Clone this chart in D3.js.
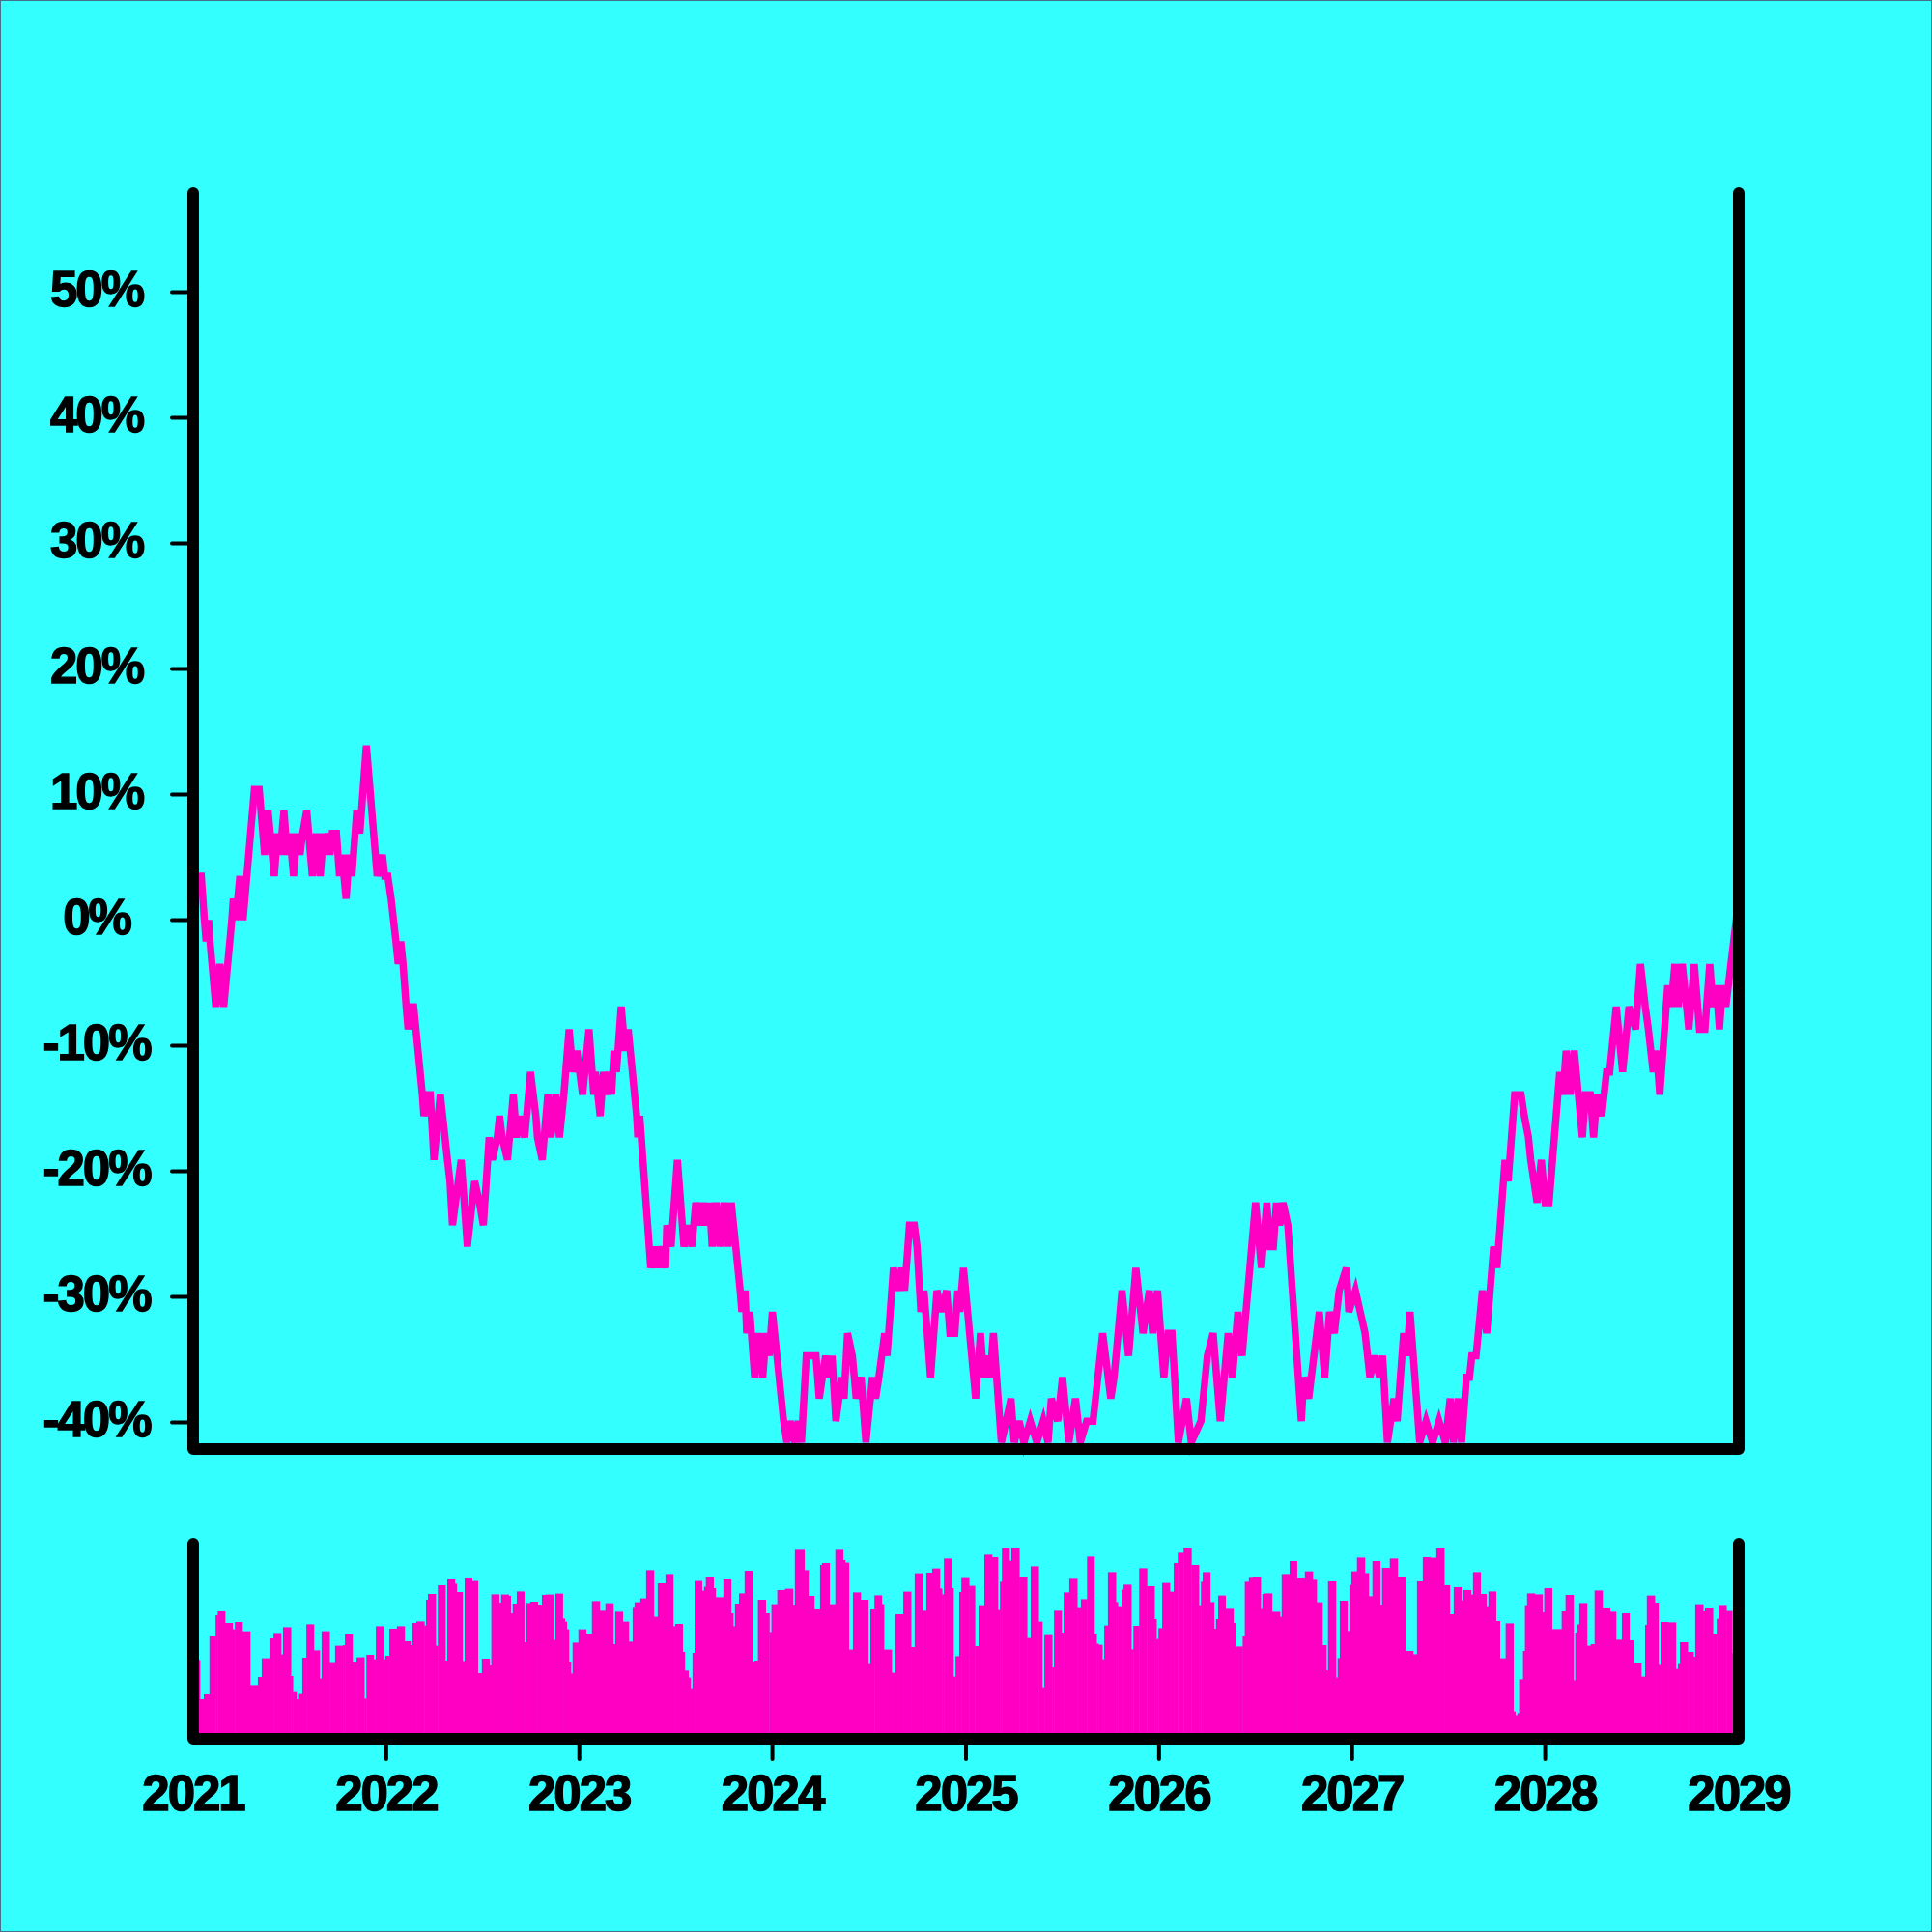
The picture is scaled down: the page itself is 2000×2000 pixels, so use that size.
<!DOCTYPE html>
<html><head><meta charset="utf-8">
<script src="https://cdn.jsdelivr.net/npm/d3@7"></script>
<style>html,body{margin:0;padding:0;background:#33ffff;} svg{display:block}</style>
</head><body>
<svg id="chart" width="2000" height="2000"></svg>
<script>
// ---- price line (percent change), decimal-year positions ----
const lineYears = [
2021.000,2021.042,2021.058,2021.067,2021.080,2021.087,2021.117,2021.138,2021.158,2021.200,2021.208,2021.220,2021.242,2021.258,
2021.317,2021.342,2021.370,2021.388,2021.420,2021.437,2021.450,2021.470,2021.487,2021.500,2021.520,2021.538,2021.553,2021.567,
2021.588,2021.617,2021.637,2021.658,2021.675,2021.683,2021.697,2021.708,2021.720,2021.742,2021.758,2021.770,2021.792,2021.808,
2021.822,2021.847,2021.863,2021.897,2021.953,2021.980,2021.992,2022.008,2022.025,2022.050,2022.062,2022.075,2022.087,2022.103,
2022.113,2022.130,2022.142,2022.187,2022.195,2022.217,2022.228,2022.247,2022.280,2022.317,2022.330,2022.343,2022.388,2022.420,
2022.458,2022.483,2022.503,2022.533,2022.550,2022.575,2022.587,2022.600,2022.628,2022.658,2022.675,2022.692,2022.717,2022.747,
2022.775,2022.783,2022.808,2022.837,2022.853,2022.878,2022.897,2022.920,2022.947,2022.967,2022.987,2023.017,2023.050,2023.075,
2023.083,2023.108,2023.125,2023.142,2023.158,2023.167,2023.180,2023.192,2023.217,2023.237,2023.253,2023.297,2023.303,2023.313,
2023.370,2023.392,2023.408,2023.425,2023.447,2023.453,2023.475,2023.508,2023.542,2023.567,2023.583,2023.603,2023.625,2023.642,
2023.658,2023.675,2023.688,2023.708,2023.728,2023.750,2023.770,2023.787,2023.833,2023.842,2023.858,2023.867,2023.883,2023.908,
2023.928,2023.950,2023.967,2023.983,2024.000,2024.058,2024.075,2024.092,2024.117,2024.133,2024.150,2024.175,2024.200,2024.225,
2024.242,2024.258,2024.275,2024.292,2024.308,2024.328,2024.358,2024.370,2024.388,2024.413,2024.433,2024.458,2024.483,2024.517,
2024.533,2024.550,2024.580,2024.592,2024.625,2024.650,2024.667,2024.683,2024.708,2024.733,2024.747,2024.767,2024.783,2024.817,
2024.850,2024.875,2024.900,2024.917,2024.942,2024.958,2024.967,2024.987,2025.050,2025.075,2025.092,2025.108,2025.125,2025.142,
2025.183,2025.208,2025.233,2025.250,2025.275,2025.300,2025.333,2025.367,2025.400,2025.425,2025.442,2025.475,2025.500,2025.533,
2025.567,2025.592,2025.625,2025.658,2025.708,2025.750,2025.767,2025.808,2025.842,2025.880,2025.917,2025.933,2025.950,2025.967,
2025.992,2026.025,2026.047,2026.067,2026.100,2026.142,2026.167,2026.217,2026.250,2026.280,2026.317,2026.358,2026.380,2026.408,
2026.430,2026.500,2026.530,2026.558,2026.575,2026.592,2026.608,2026.625,2026.642,2026.667,2026.737,2026.750,2026.775,2026.830,
2026.858,2026.883,2026.908,2026.933,2026.970,2026.983,2027.017,2027.042,2027.067,2027.092,2027.117,2027.142,2027.158,2027.183,
2027.217,2027.233,2027.267,2027.283,2027.300,2027.350,2027.383,2027.417,2027.450,2027.483,2027.508,2027.525,2027.550,2027.567,
2027.592,2027.608,2027.620,2027.642,2027.675,2027.697,2027.733,2027.750,2027.792,2027.808,2027.842,2027.875,2027.892,2027.913,
2027.925,2027.958,2027.980,2028.000,2028.020,2028.075,2028.092,2028.108,2028.128,2028.150,2028.192,2028.208,2028.233,2028.250,
2028.267,2028.292,2028.317,2028.333,2028.367,2028.400,2028.433,2028.467,2028.492,2028.517,2028.533,2028.558,2028.575,2028.592,
2028.633,2028.650,2028.670,2028.687,2028.708,2028.742,2028.770,2028.797,2028.825,2028.850,2028.867,2028.883,2028.900,2028.917,
2028.933,2029.000];
const lineValues = [
3.5,3.5,0,-1.7,0,-1.7,-6.9,-3.5,-6.9,0,1.7,0,3.5,0,
10.4,10.4,5.2,8.7,3.5,6.9,5.2,8.7,5.2,6.9,3.5,6.9,5.2,6.9,
8.7,3.5,6.9,3.5,6.9,5.2,6.9,5.2,6.9,6.9,3.5,5.2,1.7,5.2,
3.5,8.7,6.9,13.9,3.5,5.2,3.5,3.5,1.7,-1.7,-3.5,-1.7,-3.5,-6.9,
-8.7,-6.9,-6.9,-13.9,-15.6,-13.9,-13.9,-19.1,-13.9,-19.1,-20.8,-24.3,-19.1,-26.0,
-20.8,-22.5,-24.3,-17.3,-19.1,-17.3,-15.6,-17.3,-19.1,-13.9,-17.3,-15.6,-17.3,-12.1,
-15.6,-17.3,-19.1,-13.9,-17.3,-13.9,-17.3,-13.9,-8.7,-12.1,-10.4,-13.9,-8.7,-13.9,
-12.1,-15.6,-12.1,-13.9,-12.1,-13.9,-10.4,-12.1,-6.9,-10.4,-8.7,-15.6,-17.3,-15.6,
-27.7,-26.0,-27.7,-26.0,-27.7,-24.3,-26.0,-19.1,-26.0,-24.3,-26.0,-22.5,-24.3,-22.5,
-24.3,-22.5,-26.0,-22.5,-26.0,-22.5,-26.0,-22.5,-29.5,-31.2,-29.5,-32.9,-31.2,-36.4,
-32.9,-36.4,-32.9,-34.7,-31.2,-39.9,-41.6,-39.9,-41.6,-39.9,-41.6,-34.7,-34.7,-34.7,
-38.1,-36.4,-34.7,-36.4,-34.7,-39.9,-36.4,-38.1,-32.9,-34.7,-38.1,-36.4,-41.6,-36.4,
-38.1,-36.4,-32.9,-34.7,-27.7,-29.5,-27.7,-29.5,-24.3,-24.3,-26.0,-31.2,-29.5,-36.4,
-29.5,-31.2,-29.5,-32.9,-32.9,-29.5,-31.2,-27.7,-38.1,-32.9,-36.4,-34.7,-36.4,-32.9,
-41.6,-39.9,-38.1,-41.6,-39.9,-41.6,-39.9,-41.6,-39.9,-41.6,-38.1,-39.9,-36.4,-41.6,
-38.1,-41.6,-39.9,-39.9,-32.9,-38.1,-36.4,-29.5,-34.7,-27.7,-32.9,-31.2,-29.5,-32.9,
-29.5,-36.4,-32.9,-32.9,-41.6,-38.1,-41.6,-39.9,-34.7,-32.9,-39.9,-32.9,-36.4,-31.2,
-34.7,-22.5,-27.7,-22.5,-26.0,-26.0,-22.5,-24.3,-22.5,-24.3,-39.9,-36.4,-38.1,-31.2,
-36.4,-31.2,-32.9,-29.5,-27.7,-31.2,-29.5,-31.2,-32.9,-36.4,-34.7,-36.4,-34.7,-41.6,
-38.1,-39.9,-32.9,-34.7,-31.2,-41.6,-39.9,-41.6,-39.9,-41.6,-38.1,-41.6,-38.1,-41.6,
-36.4,-36.4,-34.7,-34.7,-29.5,-32.9,-26.0,-27.7,-19.1,-20.8,-13.9,-13.9,-15.6,-17.3,
-19.1,-22.5,-19.1,-22.5,-22.5,-12.1,-13.9,-10.4,-13.9,-10.4,-17.3,-13.9,-13.9,-17.3,
-13.9,-15.6,-12.1,-12.1,-6.9,-12.1,-6.9,-8.7,-3.5,-6.9,-8.7,-12.1,-10.4,-13.9,
-5.2,-6.9,-3.5,-6.9,-3.5,-8.7,-3.5,-8.7,-8.7,-3.5,-6.9,-5.2,-8.7,-5.2,
-6.9,1.7];

// ---- volume bars: start (decimal year) and volume ----
const volumeYears = [
2021.000,2021.035,2021.055,2021.084,2021.116,2021.127,2021.165,2021.204,2021.216,2021.255,2021.295,2021.335,2021.355,2021.395,
2021.416,2021.455,2021.465,2021.506,2021.516,2021.535,2021.548,2021.565,2021.586,2021.625,2021.655,2021.665,2021.706,2021.735,
2021.776,2021.786,2021.825,2021.846,2021.886,2021.897,2021.935,2021.946,2021.984,2021.995,2022.016,2022.055,2022.095,2022.125,
2022.135,2022.156,2022.197,2022.206,2022.216,2022.256,2022.267,2022.306,2022.316,2022.355,2022.365,2022.395,2022.406,2022.444,
2022.474,2022.495,2022.534,2022.544,2022.584,2022.595,2022.634,2022.644,2022.655,2022.676,2022.714,2022.725,2022.746,2022.784,
2022.806,2022.825,2022.865,2022.876,2022.914,2022.925,2022.935,2022.946,2022.956,2022.965,2022.995,2023.035,2023.065,2023.106,
2023.135,2023.176,2023.186,2023.225,2023.256,2023.276,2023.286,2023.316,2023.346,2023.386,2023.406,2023.446,2023.486,2023.497,
2023.535,2023.546,2023.565,2023.576,2023.586,2023.597,2023.635,2023.646,2023.655,2023.695,2023.706,2023.746,2023.786,2023.797,
2023.806,2023.827,2023.856,2023.895,2023.906,2023.925,2023.965,2023.984,2023.995,2024.025,2024.065,2024.106,2024.116,2024.165,
2024.186,2024.216,2024.246,2024.256,2024.295,2024.325,2024.365,2024.376,2024.395,2024.416,2024.456,2024.495,2024.506,2024.527,
2024.565,2024.576,2024.616,2024.635,2024.676,2024.716,2024.735,2024.776,2024.795,2024.825,2024.865,2024.876,2024.886,2024.925,
2024.935,2024.946,2024.965,2024.976,2025.016,2025.046,2025.065,2025.095,2025.135,2025.165,2025.176,2025.186,2025.225,2025.235,
2025.276,2025.316,2025.335,2025.376,2025.395,2025.406,2025.446,2025.456,2025.495,2025.506,2025.535,2025.576,2025.595,2025.627,
2025.665,2025.676,2025.686,2025.706,2025.716,2025.735,2025.776,2025.786,2025.806,2025.816,2025.856,2025.867,2025.897,2025.937,
2025.976,2025.986,2025.997,2026.016,2026.056,2026.076,2026.097,2026.127,2026.167,2026.206,2026.217,2026.226,2026.265,2026.285,
2026.295,2026.306,2026.344,2026.385,2026.394,2026.433,2026.444,2026.465,2026.485,2026.526,2026.535,2026.546,2026.585,2026.626,
2026.635,2026.676,2026.714,2026.755,2026.796,2026.816,2026.846,2026.866,2026.875,2026.916,2026.925,2026.936,2026.975,2026.986,
2026.996,2027.025,2027.066,2027.086,2027.105,2027.145,2027.155,2027.195,2027.236,2027.275,2027.316,2027.336,2027.366,2027.406,
2027.436,2027.477,2027.506,2027.526,2027.565,2027.576,2027.615,2027.626,2027.665,2027.695,2027.706,2027.745,2027.765,2027.795,
2027.835,2027.845,2027.856,2027.865,2027.885,2027.895,2027.906,2027.945,2027.985,2027.995,2028.035,2028.085,2028.105,2028.146,
2028.155,2028.165,2028.176,2028.216,2028.235,2028.255,2028.296,2028.335,2028.366,2028.396,2028.435,2028.455,2028.496,2028.516,
2028.525,2028.566,2028.585,2028.596,2028.636,2028.675,2028.686,2028.696,2028.736,2028.766,2028.775,2028.816,2028.825,2028.866,
2028.886,2028.897,2028.936,2028.966];
const volumeValues = [
40.8,20.5,23,53,64,66,60,56.7,60.5,55.7,27.8,32,41.7,52,
54.8,43.7,57.8,32.5,24.2,20.5,23.2,42,59.3,45.8,31.2,55.7,39.2,48.2,
48.5,54.2,39.7,42.2,20.8,43.5,41.2,58.3,41.2,43,57,58.3,50.5,48.5,
60,60.8,58.7,72,75,48.2,79.5,40.5,82.5,80.3,76,40.3,83,81.7,
34,41.5,38,74.8,70.5,74.7,74,65,70,76.3,50,70.3,71,69,
74.5,74.7,51.2,75.2,62.3,60.7,56.7,39.5,33.8,49.8,56.7,54.5,71.3,66.3,
70.2,49,65.8,60.7,50.3,67.8,70.7,72.7,87.3,63.2,80.5,85.3,58.3,59.5,
45,35.3,31.7,26.2,44.5,81.7,76.7,78.7,83.7,78,73.3,82.5,65,58.3,
70,75.3,87,40,40.5,72,65,55.3,69.7,77,77.7,69,97.8,87.3,
74,67,90,91,69.7,97.8,92.5,91.2,46.2,75.8,72,38.7,67,74.3,
69.7,46.2,34.2,64.5,76.2,47.5,85.7,66.3,86,88.2,77.8,74.8,93.3,78,
32.2,42.8,76,83.2,79.2,48,68.7,95.3,94,66.7,81.3,98.7,92.2,98.8,
83.5,52.2,89.3,60.7,26.7,53.7,37,66.3,55,75.8,82.8,67.7,72.3,94.3,
54,49.3,48.7,41.2,58.7,86.3,70.8,68.2,77.3,79.8,46.3,58.5,88.3,79,
62,51.7,57.3,80.7,76.2,91,96.3,98.7,90,68.7,81.3,86.3,70.8,57,
62,74.2,67.3,60,47.8,53,81.3,83.3,83.8,67.3,75,75.3,65.8,63.2,
85.3,92,83,86.7,82.3,70.7,48.5,35.5,81.5,31.7,41.8,71.5,55.8,79.7,
86.7,93.8,85.8,73.8,92,69.2,88.5,93.3,83.8,45.5,43.8,81.5,94,93.7,
98.7,79.5,64.5,78.5,71.7,77,74.7,86.3,75,68.2,76.3,61,41.7,59.8,
14.2,12.3,13.3,30.8,45.5,68.7,75.3,74.8,65.5,78,56.8,66,74.5,30.3,
55,59.3,70.3,48.2,49,76.8,67.5,65.8,51.3,65,51,39,32.2,59,
74.2,70.5,38.3,60.5,60.3,36.2,38.7,50,45,42.5,69.7,66,67.5,54,
62.2,68.8,66.2,44.5];

// ---- axes ----
const yTickValues = [-40,-30,-20,-10,0,10,20,30,40,50];
const yTickLabels = ["-40%","-30%","-20%","-10%","0%","10%","20%","30%","40%","50%"];
const xTickYears = [2021,2022,2023,2024,2025,2026,2027,2028,2029];
const xTickLabels = ["2021","2022","2023","2024","2025","2026","2027","2028","2029"];

const BG = "#33ffff", PINK = "#ff00c3", INK = "#000000";
const FONT = "'Liberation Sans', Arial, Helvetica, sans-serif";

function yearToDate(y) {
  const yr = Math.floor(y);
  const a = new Date(yr, 0, 1), b = new Date(yr + 1, 0, 1);
  return new Date(+a + (y - yr) * (b - a));
}

const svg = d3.select("#chart");
svg.append("rect").attr("x", 0).attr("y", 0).attr("width", 2000).attr("height", 2000)
  .attr("fill", BG).attr("stroke", "#44708c").attr("stroke-width", 2);

const x = d3.scaleTime().domain([yearToDate(2021), yearToDate(2029)]).range([200, 1800]);
const y = d3.scaleLinear().domain([-42.12, 57.88]).range([1500, 200]);
const yv = d3.scaleLinear().domain([0, 100]).range([1800, 1600]);

// volume bars
const bars = volumeYears.map((t, i) => ({
  t0: yearToDate(t),
  t1: yearToDate(i + 1 < volumeYears.length ? volumeYears[i + 1] : 2029),
  v: volumeValues[i]
}));
svg.append("g").selectAll("rect").data(bars).join("rect")
  .attr("x", d => x(d.t0))
  .attr("width", d => x(d.t1) - x(d.t0) + 0.4)
  .attr("y", d => yv(d.v))
  .attr("height", d => yv(0) - yv(d.v))
  .attr("fill", PINK);

// price line
const pts = lineYears.map((t, i) => [yearToDate(t), lineValues[i]]);
svg.append("path").datum(pts)
  .attr("d", d3.line().x(d => x(d[0])).y(d => y(d[1])))
  .attr("fill", "none").attr("stroke", PINK).attr("stroke-width", 7.5)
  .attr("stroke-linejoin", "miter").attr("stroke-miterlimit", 4).attr("stroke-linecap", "butt");

// frames
const [x0, x1] = x.range();
const [yb, yt] = y.range();
const [vb, vt] = [yv(0), 1598];
function frame(top, bottom) {
  const p = d3.path();
  p.moveTo(x0, top); p.lineTo(x0, bottom); p.lineTo(x1, bottom); p.lineTo(x1, top);
  return p.toString();
}
svg.append("path").attr("d", frame(yt, yb)).attr("fill", "none").attr("stroke", INK)
  .attr("stroke-width", 12).attr("stroke-linejoin", "round").attr("stroke-linecap", "round");
svg.append("path").attr("d", frame(vt, vb)).attr("fill", "none").attr("stroke", INK)
  .attr("stroke-width", 12).attr("stroke-linejoin", "round").attr("stroke-linecap", "round");

// y ticks + labels (labels centred)
const gy = svg.append("g");
gy.selectAll("line").data(yTickValues).join("line")
  .attr("x1", x0 - 22).attr("x2", x0).attr("y1", d => y(d)).attr("y2", d => y(d))
  .attr("stroke", INK).attr("stroke-width", 4).attr("stroke-linecap", "round");
gy.selectAll("text").data(yTickValues).join("text")
  .attr("x", 100).attr("y", d => y(d) + 15)
  .attr("text-anchor", "middle")
  .attr("font-family", FONT).attr("font-weight", "bold").attr("font-size", 51)
  .attr("letter-spacing", "-2px").attr("fill", INK)
  .attr("stroke", INK).attr("stroke-width", 1.4)
  .text((d, i) => yTickLabels[i]);

// x ticks + labels
const gx = svg.append("g");
gx.selectAll("line").data(xTickYears.slice(1, -1)).join("line")
  .attr("x1", d => x(yearToDate(d))).attr("x2", d => x(yearToDate(d)))
  .attr("y1", vb).attr("y2", vb + 21)
  .attr("stroke", INK).attr("stroke-width", 4).attr("stroke-linecap", "round");
gx.selectAll("text").data(xTickYears).join("text")
  .attr("x", d => x(yearToDate(d))).attr("y", vb + 74)
  .attr("text-anchor", "middle")
  .attr("font-family", FONT).attr("font-weight", "bold").attr("font-size", 51)
  .attr("letter-spacing", "-2px").attr("fill", INK)
  .attr("stroke", INK).attr("stroke-width", 1.4)
  .text((d, i) => xTickLabels[i]);
</script>
</body></html>
